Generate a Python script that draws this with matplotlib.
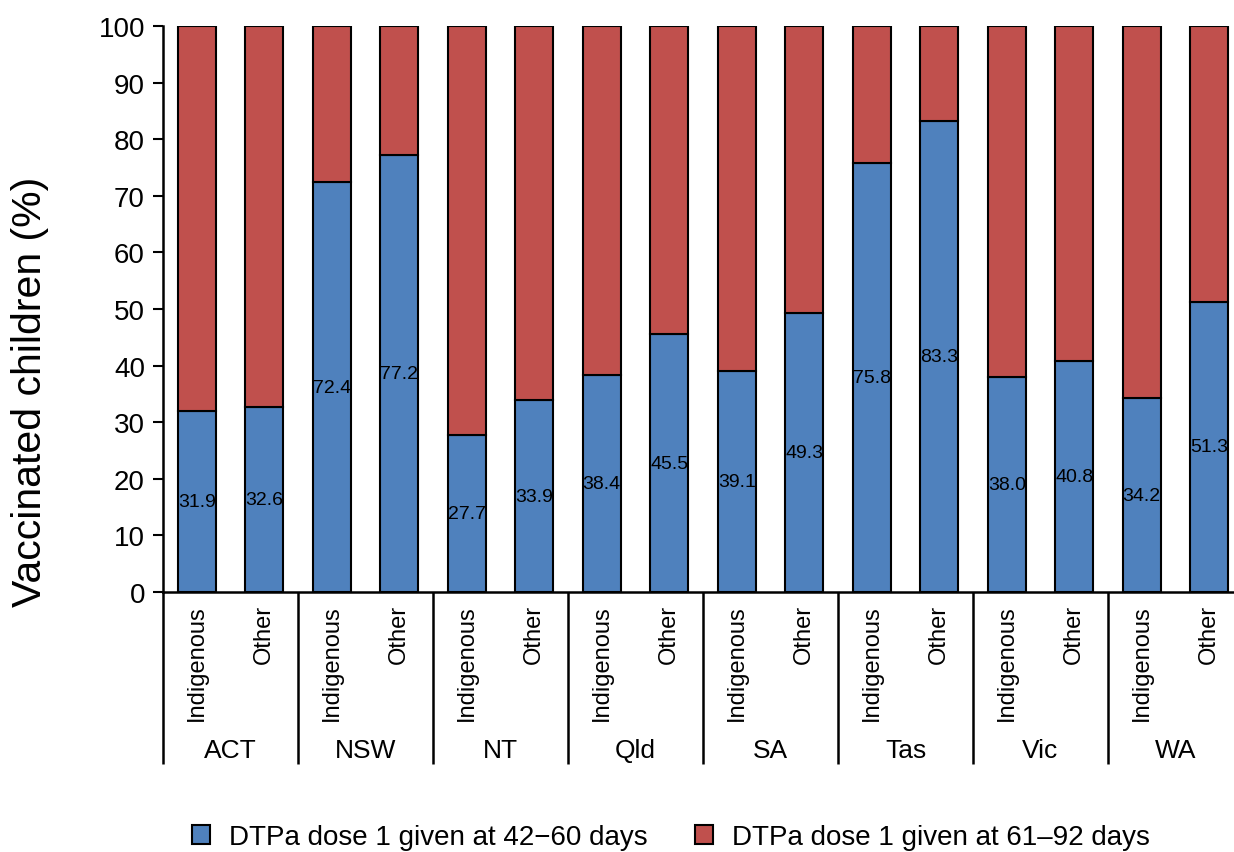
import numpy as np
import matplotlib
matplotlib.use('Agg')
import matplotlib.pyplot as plt
from matplotlib.patches import Patch

plt.rcParams['font.family'] = ['Liberation Sans', 'DejaVu Sans']

# Data
states = ['ACT', 'NSW', 'NT', 'Qld', 'SA', 'Tas', 'Vic', 'WA']
groups = ['Indigenous', 'Other']
early = [31.9, 32.6, 72.4, 77.2, 27.7, 33.9, 38.4, 45.5,
         39.1, 49.3, 75.8, 83.3, 38.0, 40.8, 34.2, 51.3]
late = [68.1, 67.4, 27.6, 22.8, 72.3, 66.1, 61.6, 54.5,
        60.9, 50.7, 24.2, 16.7, 62.0, 59.2, 65.8, 48.7]
series_names = ['DTPa dose 1 given at 42\u221260 days',
                'DTPa dose 1 given at 61\u201392 days']

blue = '#4F81BD'
red = '#C0504D'

W, H = 1234, 853
fig = plt.figure(figsize=(W / 100, H / 100), dpi=100)
ax = fig.add_axes([163 / W, (H - 593) / H, (1243 - 163) / W, (593 - 27) / H])

x = np.arange(len(early))
bw = 0.56
ax.bar(x, early, width=bw, color=blue, edgecolor='black', linewidth=1.5, zorder=2)
ax.bar(x, late, bottom=early, width=bw, color=red, edgecolor='black',
       linewidth=1.5, zorder=2)

for xi, v in zip(x, early):
    ax.text(xi, v / 2, f'{v:.1f}', ha='center', va='center', fontsize=14, zorder=3)

ax.set_xlim(-0.5, 15.5)
ax.set_ylim(0, 100)
ax.set_yticks(np.arange(0, 101, 10))
ax.tick_params(axis='y', labelsize=20, length=7, width=1.5, direction='out', pad=6)
ax.set_xticks([])
for s in ['top', 'right']:
    ax.spines[s].set_visible(False)
ax.spines['left'].set_linewidth(1.8)
ax.spines['bottom'].set_linewidth(1.8)

# y label, placed lower than the axes centre as in the original
fig.text(30 / W, 1 - 392 / H, 'Vaccinated children (%)', rotation=90,
         ha='center', va='center', fontsize=29.5)

# category labels and group separators
for xi in x:
    ax.text(xi, -2.1, groups[xi % 2], rotation=90, ha='center', va='top',
            fontsize=17, clip_on=False)
for i, st in enumerate(states):
    ax.text(2 * i + 0.5, -0.28, st, ha='center', va='center', fontsize=19,
            transform=ax.get_xaxis_transform())
for i in range(len(states)):
    ax.plot([2 * i - 0.5, 2 * i - 0.5], [0, -0.304], color='black', lw=1.8,
            transform=ax.get_xaxis_transform(), clip_on=False, solid_capstyle='butt')

handles = [Patch(facecolor=blue, edgecolor='black', linewidth=1.5),
           Patch(facecolor=red, edgecolor='black', linewidth=1.5)]
fig.legend(handles, series_names, loc='center', bbox_to_anchor=(671 / W, 1 - 838 / H),
           ncol=2, frameon=False, fontsize=20, handlelength=0.65, handleheight=0.65,
           handletextpad=0.7, columnspacing=1.7)

fig.savefig('out.png', dpi=100)
